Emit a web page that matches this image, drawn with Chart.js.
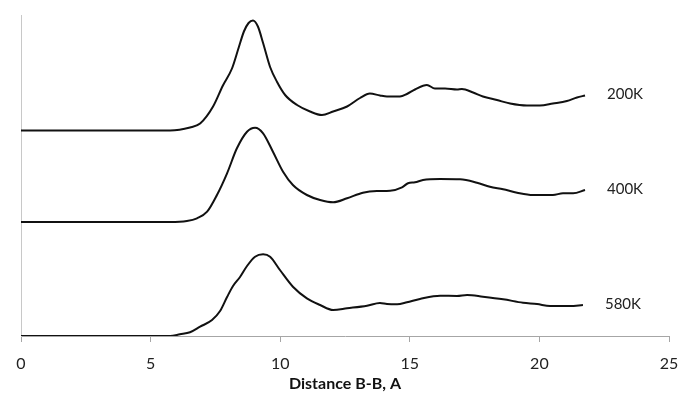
<!DOCTYPE html>
<html>
<head>
<meta charset="utf-8">
<script src="https://cdn.jsdelivr.net/npm/chart.js@4.4.1/dist/chart.umd.min.js"></script>
<style>
  html, body { margin: 0; padding: 0; background: #fff; }
  #wrap { width: 678px; height: 394px; position: relative; }
</style>
</head>
<body>
<div id="wrap"><canvas id="c" width="678" height="394"></canvas></div>
<script>
// Series labels and vertical offsets (curves are stacked)
const seriesNames = ['200K', '400K', '580K'];
const seriesOffsets = [2.055, 1.14, 0];

// 200K
const x200 = [0, 5.75, 6.52, 6.91, 7.41, 7.79, 8.14, 8.40, 8.60, 8.78, 8.95, 9.14, 9.34, 9.61, 9.88, 10.19, 10.65, 11.15, 11.61, 12.04, 12.58, 13.08, 13.46, 13.85, 14.12, 14.62, 14.89, 15.20, 15.66, 15.97, 16.36, 16.82, 17.01, 17.44, 17.82, 18.36, 18.87, 19.52, 20.02, 20.52, 21.06, 21.45, 21.76];
const y200 = [0, 0, 0.03, 0.07, 0.24, 0.45, 0.62, 0.83, 0.99, 1.075, 1.10, 1.04, 0.875, 0.635, 0.485, 0.355, 0.255, 0.19, 0.155, 0.19, 0.24, 0.325, 0.37, 0.35, 0.34, 0.34, 0.365, 0.41, 0.455, 0.42, 0.42, 0.41, 0.415, 0.38, 0.34, 0.305, 0.27, 0.25, 0.25, 0.27, 0.295, 0.33, 0.35];

// 400K
const x400 = [0, 5.75, 6.40, 6.79, 7.18, 7.56, 7.95, 8.33, 8.72, 9.03, 9.34, 9.72, 10.11, 10.49, 11.03, 11.54, 12.04, 12.58, 13.19, 13.73, 14.24, 14.70, 14.93, 15.20, 15.51, 16.17, 16.94, 17.59, 18.09, 18.60, 19.14, 19.75, 20.52, 20.91, 21.30, 21.76];
const y400 = [0, 0, 0.01, 0.037, 0.103, 0.27, 0.487, 0.737, 0.903, 0.943, 0.887, 0.703, 0.503, 0.37, 0.27, 0.22, 0.197, 0.237, 0.293, 0.31, 0.313, 0.347, 0.387, 0.397, 0.42, 0.43, 0.427, 0.393, 0.353, 0.327, 0.293, 0.27, 0.27, 0.287, 0.287, 0.32];

// 580K
const x580 = [0, 5.75, 6.13, 6.52, 6.91, 7.37, 7.68, 7.95, 8.18, 8.45, 8.72, 9.03, 9.34, 9.61, 9.99, 10.49, 11.03, 11.54, 12.04, 12.58, 13.35, 13.85, 14.12, 14.51, 14.89, 15.39, 16.17, 16.82, 17.21, 17.82, 18.60, 19.37, 19.91, 20.41, 21.18, 21.68];
const y580 = [0, 0, 0.017, 0.037, 0.093, 0.16, 0.25, 0.39, 0.50, 0.59, 0.70, 0.793, 0.817, 0.793, 0.66, 0.493, 0.377, 0.31, 0.26, 0.277, 0.303, 0.33, 0.32, 0.317, 0.337, 0.37, 0.403, 0.40, 0.41, 0.393, 0.367, 0.333, 0.32, 0.30, 0.30, 0.31];

// Axis ticks
const xTicks = [0, 5, 10, 15, 20, 25];
const xTitle = 'Distance B-B, A';

const xsAll = [x200, x400, x580];
const ysAll = [y200, y400, y580];
const FONT = 'Lato, "Liberation Sans", sans-serif';

const datasets = seriesNames.map((name, s) => ({
  label: name,
  data: xsAll[s].map((x, i) => ({ x: x, y: ysAll[s][i] + seriesOffsets[s] })),
  borderColor: '#111111',
  borderWidth: 2,
  pointRadius: 0,
  fill: false,
  tension: 0.35,
  cubicInterpolationMode: 'monotone'
}));

const endLabels = {
  id: 'endLabels',
  afterDatasetsDraw(chart) {
    const ctx = chart.ctx;
    ctx.save();
    ctx.font = '15px ' + FONT;
    ctx.fillStyle = '#222';
    ctx.textAlign = 'left';
    ctx.textBaseline = 'middle';
    chart.data.datasets.forEach((ds, i) => {
      const meta = chart.getDatasetMeta(i);
      const last = meta.data[meta.data.length - 1];
      ctx.fillText(ds.label, last.x + 22, last.y - 1);
    });
    ctx.restore();
  }
};

new Chart(document.getElementById('c'), {
  type: 'line',
  data: { datasets },
  options: {
    responsive: false,
    animation: false,
    events: [],
    layout: { padding: { left: 21, right: 9, top: 15, bottom: 0 } },
    plugins: { legend: { display: false }, tooltip: { enabled: false } },
    scales: {
      x: {
        type: 'linear',
        min: 0, max: 25,
        afterFit: s => { s.height = 58; s.paddingRight = 0; s.paddingLeft = 0; },
        afterBuildTicks: s => { s.ticks = xTicks.map(v => ({ value: v })); },
        ticks: { font: { family: FONT, size: 16 }, color: '#222', padding: 12, maxRotation: 0 },
        grid: { drawOnChartArea: false, drawTicks: true, tickLength: 6, color: '#a6a6a6' },
        border: { display: true, color: '#a6a6a6', width: 1 },
        title: { display: true, text: xTitle, color: '#111', font: { family: FONT, size: 16, weight: 'bold' }, padding: { top: 0, bottom: 1 } }
      },
      y: {
        min: 0, max: 3.21,
        afterFit: s => { s.width = 0; },
        ticks: { display: false },
        grid: { display: false },
        border: { display: true, color: '#c8c8c8', width: 1 }
      }
    }
  },
  plugins: [endLabels]
});
</script>
</body>
</html>
